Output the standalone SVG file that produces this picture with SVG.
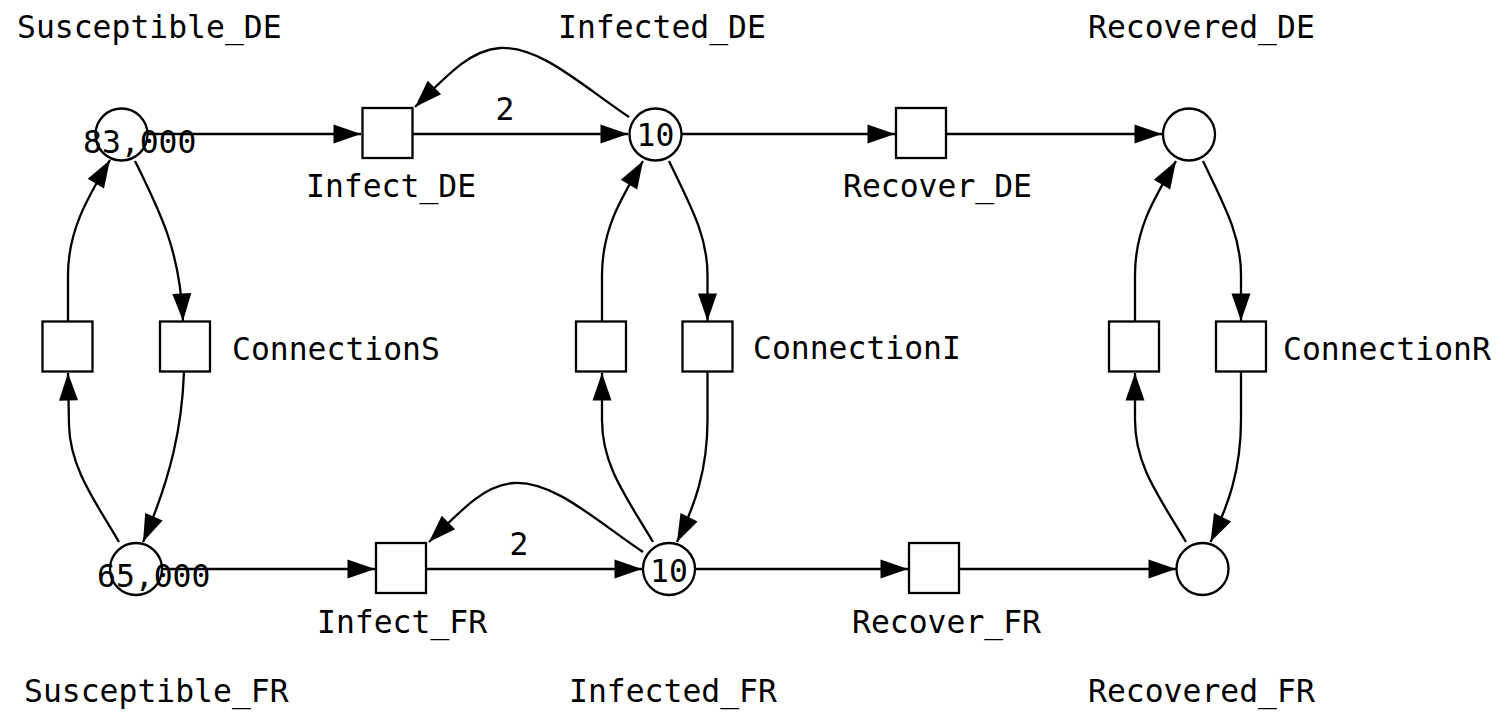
<svg xmlns="http://www.w3.org/2000/svg" width="1508" height="718" viewBox="0 0 1508 718">
<style>
text{font-family:"DejaVu Sans Mono","Liberation Mono",monospace;font-size:31.4px;fill:#000}
.place{fill:#fff;stroke:#000;stroke-width:2.3}
.trans{fill:#fff;stroke:#000;stroke-width:2.3}
.edge{fill:none;stroke:#000;stroke-width:2.3;marker-end:url(#arrow)}
.mid{text-anchor:middle}
</style>
<defs>
<marker id="arrow" markerUnits="userSpaceOnUse" markerWidth="28" markerHeight="19" refX="27.5" refY="9.5" orient="auto" overflow="visible">
<path d="M0,0 L27.5,9.5 L0,19 z" fill="#000"/>
</marker>
</defs>
<rect width="1508" height="718" fill="#fff"/>

<g id="connectors">
<path class="edge" d="M148,134 L361,134"/>
<path class="edge" d="M413,134 L628,134"/>
<path class="edge" d="M629,117 C580,84 540,46 500,48 C472,50 452,70 415,107"/>
<path class="edge" d="M682,134 L895,134"/>
<path class="edge" d="M947,134 L1162,134"/>
<path class="edge" d="M162,569 L375,569"/>
<path class="edge" d="M427,569 L642,569"/>
<path class="edge" d="M643,552 C594,519 554,481 514,483 C486,485 466,505 429,542"/>
<path class="edge" d="M696,569 L908,569"/>
<path class="edge" d="M960,569 L1176,569"/>
<path class="edge" d="M135,161 C160,212 180,250 183,321"/>
<path class="edge" d="M184,372 C182,425 172,475 143,542"/>
<path class="edge" d="M119,542 C98,505 70,470 69,425 L68,373"/>
<path class="edge" d="M68,321 L68,275 C68,232 86,200 110,160"/>
<path class="edge" d="M669,161 C690,205 707.5,235 707.5,275 L707.5,321"/>
<path class="edge" d="M707.5,372 L707.5,420 C707.5,470 695,505 677,542"/>
<path class="edge" d="M653,542 C625,495 602,465 602,420 L602,373"/>
<path class="edge" d="M602,321 L602,275 C602,230 620,200 643,161"/>
<path class="edge" d="M1203,161 C1224,205 1241,235 1241,275 L1241,321"/>
<path class="edge" d="M1241,372 L1241,420 C1241,470 1228.5,505 1210.5,542"/>
<path class="edge" d="M1186,542 C1158,495 1135,465 1135,420 L1135,373"/>
<path class="edge" d="M1135,321 L1135,275 C1135,230 1153,200 1176,161"/>
<text class="mid" x="505" y="120">2</text>
<text class="mid" x="519" y="555">2</text>
</g>

<g id="Susceptible_DE"><circle class="place" cx="121.5" cy="134.5" r="26"/><text x="83" y="153">83,000</text><text x="17" y="38">Susceptible_DE</text></g>
<g id="Infected_DE"><circle class="place" cx="655.5" cy="134.5" r="26"/><text class="mid" x="655.5" y="146">10</text><text x="558" y="38">Infected_DE</text></g>
<g id="Recovered_DE"><circle class="place" cx="1189" cy="134.5" r="26"/><text x="1088" y="38">Recovered_DE</text></g>
<g id="Susceptible_FR"><circle class="place" cx="136" cy="569" r="26"/><text x="97" y="587">65,000</text><text x="24" y="702">Susceptible_FR</text></g>
<g id="Infected_FR"><circle class="place" cx="669" cy="569" r="26"/><text class="mid" x="669" y="582">10</text><text x="569" y="702">Infected_FR</text></g>
<g id="Recovered_FR"><circle class="place" cx="1202.5" cy="569" r="26"/><text x="1088" y="702">Recovered_FR</text></g>

<g id="Infect_DE"><rect class="trans" x="362.5" y="108" width="50" height="50"/><text x="306" y="197">Infect_DE</text></g>
<g id="Recover_DE"><rect class="trans" x="896" y="108" width="50" height="50"/><text x="843" y="197">Recover_DE</text></g>
<g id="Infect_FR"><rect class="trans" x="376" y="543" width="50" height="50"/><text x="317" y="633">Infect_FR</text></g>
<g id="Recover_FR"><rect class="trans" x="909" y="543" width="50" height="50"/><text x="852" y="633">Recover_FR</text></g>
<g id="S_FR_to_DE"><rect class="trans" x="42.5" y="321.5" width="50" height="50"/></g>
<g id="ConnectionS"><rect class="trans" x="160" y="321.5" width="50" height="50"/><text x="232" y="360">ConnectionS</text></g>
<g id="I_FR_to_DE"><rect class="trans" x="576" y="321.5" width="50" height="50"/></g>
<g id="ConnectionI"><rect class="trans" x="682.5" y="321.5" width="50" height="50"/><text x="753" y="359">ConnectionI</text></g>
<g id="R_FR_to_DE"><rect class="trans" x="1109" y="321.5" width="50" height="50"/></g>
<g id="ConnectionR"><rect class="trans" x="1216" y="321.5" width="50" height="50"/><text x="1283" y="360">ConnectionR</text></g>
</svg>
